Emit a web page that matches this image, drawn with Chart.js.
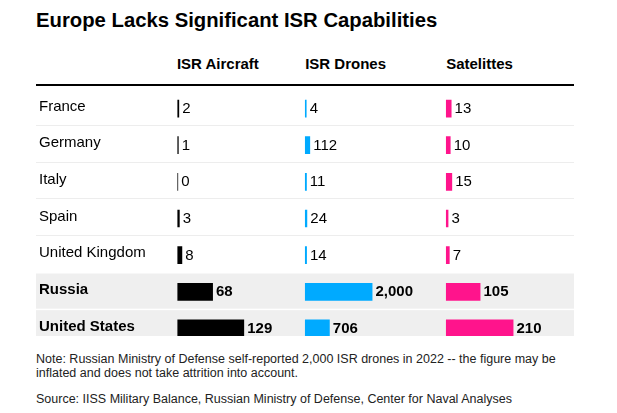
<!DOCTYPE html>
<html>
<head>
<meta charset="utf-8">
<script src="https://cdn.jsdelivr.net/npm/chart.js@4.4.1/dist/chart.umd.min.js"></script>
<style>
  body { margin: 0; background: #fff; font-family: 'Liberation Sans', Arial, sans-serif; color: #000; }
  #page { position: relative; width: 617px; height: 413px; overflow: hidden; }
  #title { position: absolute; left: 36px; top: 10.1px; font-size: 20.3px; line-height: 20.3px; font-weight: bold; white-space: nowrap; }
  .head { position: absolute; top: 56.3px; font-size: 15px; line-height: 15px; font-weight: bold; white-space: nowrap; }
  #rule { position: absolute; left: 36px; top: 84px; width: 538px; height: 2px; background: #000; }
  #tableWrap { position: absolute; left: 36px; top: 86px; width: 538px; height: 250px; overflow: hidden; }
  .foot { position: absolute; left: 36px; font-size: 12.5px; line-height: 13.5px; color: #222; white-space: nowrap; }
</style>
</head>
<body>
<div id="page">
  <div id="title">Europe Lacks Significant ISR Capabilities</div>
  <div id="rule"></div>
  <div id="tableWrap"><canvas id="myChart" width="538" height="265"></canvas></div>
  <div class="foot" style="top:353.4px">Note: Russian Ministry of Defense self-reported 2,000 ISR drones in 2022 -- the figure may be<br>inflated and does not take attrition into account.</div>
  <div class="foot" style="top:393.4px">Source: IISS Military Balance, Russian Ministry of Defense, Center for Naval Analyses</div>
</div>
<script>
// data
const countries = ['France', 'Germany', 'Italy', 'Spain', 'United Kingdom', 'Russia', 'United States'];
const columns = ['ISR Aircraft', 'ISR Drones', 'Satelittes'];
const aircraft = [2, 1, 0, 3, 8, 68, 129];
const drones = [4, 112, 11, 24, 14, 2000, 706];
const satellites = [13, 10, 15, 3, 7, 105, 210];

// layout of the table columns (px inside the chart area)
const CANVAS_W = 538;
const AXIS_W = 138.4;
const PAD_LEFT = 3;
const AREA_W = CANVAS_W - AXIS_W - PAD_LEFT;
const colOffsets = [0, 128.3, 269.3];
const BAR_MAX = 66;
const highlighted = ['Russia', 'United States'];

// column headers
columns.forEach((name, i) => {
  const d = document.createElement('div');
  d.className = 'head';
  d.textContent = name;
  d.style.left = (36 + PAD_LEFT + AXIS_W + colOffsets[i] - 0.5) + 'px';
  document.getElementById('page').appendChild(d);
});

// each column gets its own x scale so its max value is BAR_MAX px wide
function colScale(i, values) {
  const k = BAR_MAX / Math.max(...values);
  return {
    type: 'linear',
    display: false,
    min: -colOffsets[i] / k,
    max: (AREA_W - colOffsets[i]) / k
  };
}

// gray rows and thin separators behind everything
const rowBackground = {
  id: 'rowBackground',
  beforeDraw(chart) {
    const ctx = chart.ctx;
    const y = chart.scales.y;
    const h = y.getPixelForValue(1) - y.getPixelForValue(0);
    ctx.save();
    countries.forEach((c, i) => {
      const cy = y.getPixelForValue(i);
      if (highlighted.includes(c)) {
        ctx.fillStyle = '#efefef';
        ctx.fillRect(0, cy - h / 2, chart.width, h - 1.5);
      } else if (!highlighted.includes(countries[i + 1])) {
        ctx.fillStyle = '#ededed';
        ctx.fillRect(0, Math.round(cy + h / 2 - 2), chart.width, 1);
      }
    });
    ctx.restore();
  }
};

// numbers next to the bars
const valueLabels = {
  id: 'valueLabels',
  afterDatasetsDraw(chart) {
    const ctx = chart.ctx;
    ctx.save();
    ctx.fillStyle = '#000';
    ctx.textBaseline = 'middle';
    ctx.textAlign = 'left';
    chart.data.datasets.forEach((ds, di) => {
      chart.getDatasetMeta(di).data.forEach((bar, i) => {
        const bold = highlighted.includes(countries[i]);
        ctx.font = (bold ? 'bold ' : '') + '15px "Liberation Sans", Arial, sans-serif';
        ctx.fillText(ds.data[i].toLocaleString('en-US'), bar.x + 3.8, bar.y + 0.5);
      });
    });
    ctx.restore();
  }
};

const barStyle = { grouped: false, barThickness: 16.2, inflateAmount: 0.75, borderWidth: 0 };

Chart.defaults.font.family = "'Liberation Sans', Arial, sans-serif";

const ctx = document.getElementById('myChart').getContext('2d');
const myChart = new Chart(ctx, {
  type: 'bar',
  data: {
    labels: countries,
    datasets: [
      Object.assign({ label: columns[0], data: aircraft, xAxisID: 'xa', backgroundColor: '#000000' }, barStyle),
      Object.assign({ label: columns[1], data: drones, xAxisID: 'xd', backgroundColor: '#00aaff' }, barStyle),
      Object.assign({ label: columns[2], data: satellites, xAxisID: 'xs', backgroundColor: '#ff148c' }, barStyle)
    ]
  },
  options: {
    indexAxis: 'y',
    responsive: false,
    animation: false,
    devicePixelRatio: 1,
    layout: { padding: { left: PAD_LEFT, right: 0, top: 0, bottom: 0 } },
    plugins: { legend: { display: false }, tooltip: { enabled: false } },
    scales: {
      y: {
        grid: { display: false },
        border: { display: false },
        afterFit(scale) { scale.width = AXIS_W; },
        ticks: {
          crossAlign: 'far',
          color: '#000',
          padding: 0,
          // two-line label lifts the name a little above the bar centre
          callback: (v, i) => [countries[i], ''],
          font: (c) => ({
            size: 15,
            weight: highlighted.includes(countries[c.index]) ? 'bold' : 'normal',
            lineHeight: '4.2px'
          })
        }
      },
      xa: colScale(0, aircraft),
      xd: colScale(1, drones),
      xs: colScale(2, satellites)
    }
  },
  plugins: [rowBackground, valueLabels]
});
</script>
</body>
</html>
